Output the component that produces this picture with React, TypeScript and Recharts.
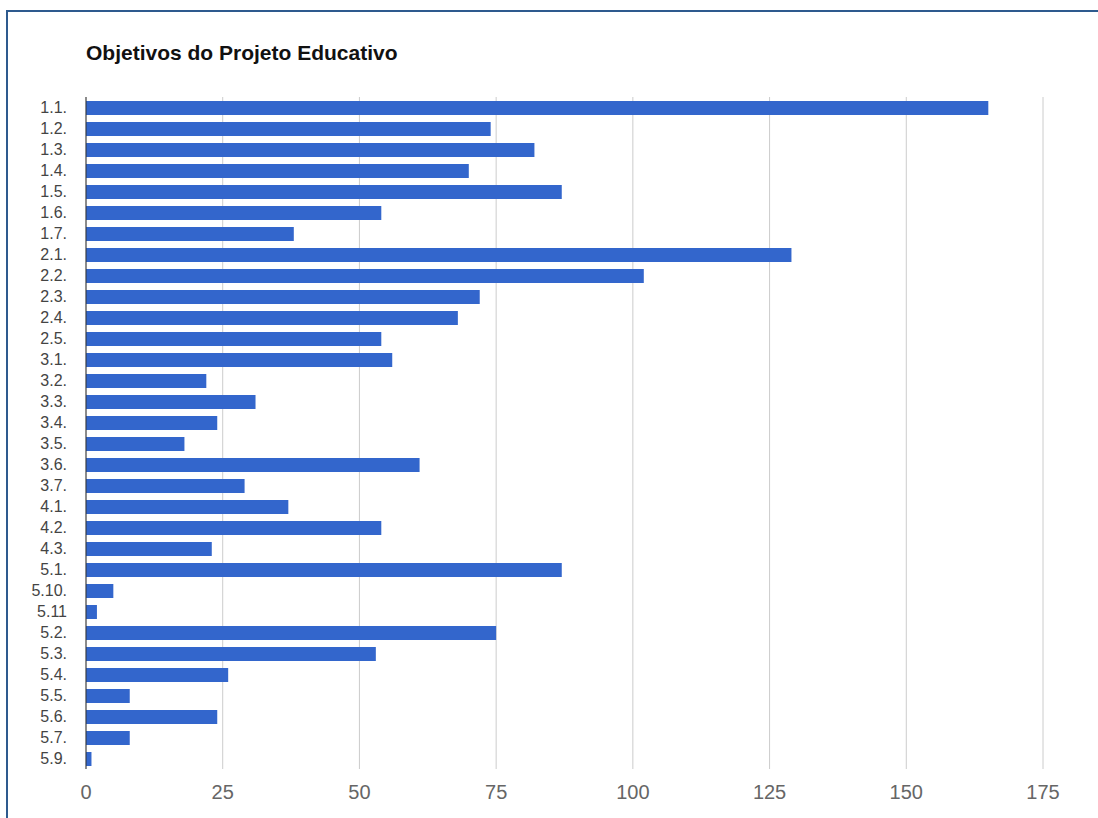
import React from 'react';
import { BarChart, Bar, XAxis, YAxis, CartesianGrid } from 'recharts';

const categories = [
  '1.1.', '1.2.', '1.3.', '1.4.', '1.5.', '1.6.', '1.7.',
  '2.1.', '2.2.', '2.3.', '2.4.', '2.5.',
  '3.1.', '3.2.', '3.3.', '3.4.', '3.5.', '3.6.', '3.7.',
  '4.1.', '4.2.', '4.3.',
  '5.1.', '5.10.', '5.11', '5.2.', '5.3.', '5.4.', '5.5.', '5.6.', '5.7.', '5.9.',
];

const counts = [
  165, 74, 82, 70, 87, 54, 38,
  129, 102, 72, 68, 54,
  56, 22, 31, 24, 18, 61, 29,
  37, 54, 23,
  87, 5, 2, 75, 53, 26, 8, 24, 8, 1,
];

const xTicks = [0, 25, 50, 75, 100, 125, 150, 175];

const data = categories.map((name, i) => ({ name, value: counts[i] }));

const font = 'Arial, "Liberation Sans", sans-serif';

export default function App() {
  return (
    <div style={{ position: 'absolute', left: 0, top: 0, width: 1098, height: 818, background: '#fff', overflow: 'hidden', fontFamily: font }}>
      <div
        style={{
          position: 'absolute',
          left: 6,
          top: 10,
          width: 1200,
          height: 900,
          borderTop: '2px solid #2e5a8e',
          borderLeft: '2px solid #2e5a8e',
        }}
      />
      <div style={{ position: 'absolute', left: 86, top: 41, fontSize: 21, lineHeight: '24px', fontWeight: 'bold', color: '#111' }}>
        Objetivos do Projeto Educativo
      </div>
      <div style={{ position: 'absolute', left: 0, top: 0 }}>
        <BarChart
          width={1098}
          height={818}
          layout="vertical"
          data={data}
          margin={{ top: 97, right: 55, bottom: 9, left: 10 }}
          barSize={14}
        >
          <CartesianGrid horizontal={false} vertical={true} stroke="#cccccc" />
          <XAxis
            type="number"
            domain={[0, 175]}
            ticks={xTicks}
            axisLine={false}
            tickLine={false}
            tickMargin={10}
            height={40}
            tick={{ fill: '#666', fontSize: 20, fontFamily: font }}
          />
          <YAxis
            type="category"
            dataKey="name"
            width={76}
            interval={0}
            axisLine={{ stroke: '#333', strokeWidth: 1 }}
            tickLine={false}
            tickMargin={13}
            tick={{ fill: '#444', fontSize: 16, fontFamily: font }}
          />
          <Bar dataKey="value" fill="#3366cc" isAnimationActive={false} />
        </BarChart>
      </div>
    </div>
  );
}
